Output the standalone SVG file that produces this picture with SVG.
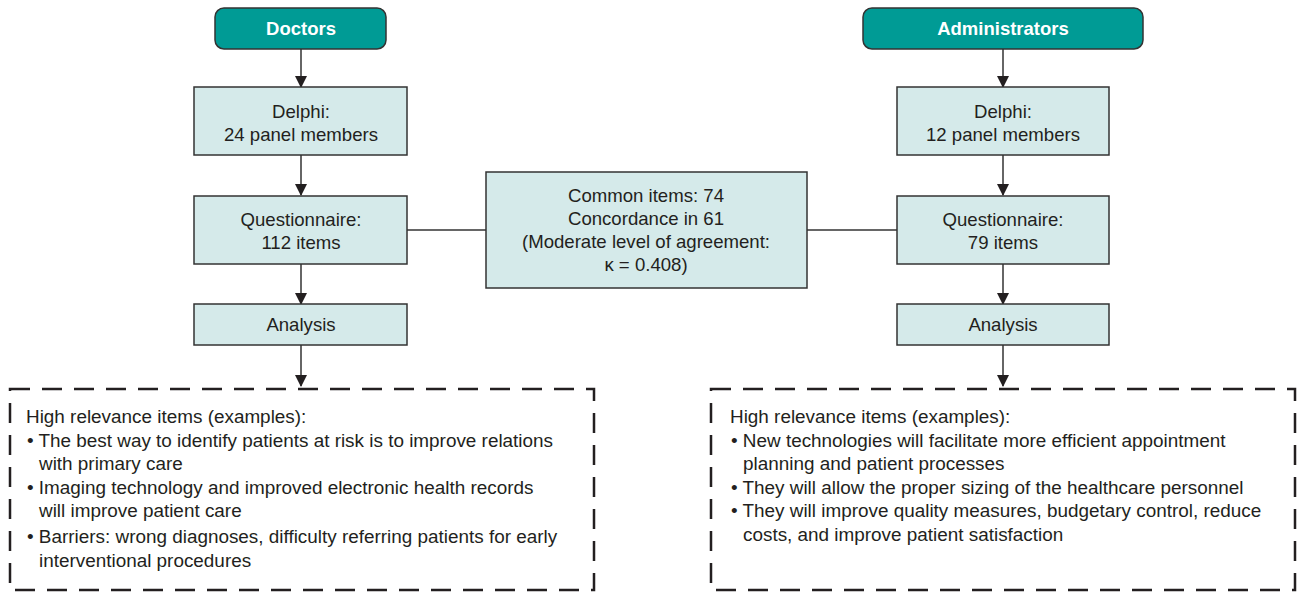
<svg xmlns="http://www.w3.org/2000/svg" width="1300" height="594" viewBox="0 0 1300 594">
<defs>
<marker id="ah" markerWidth="12" markerHeight="12" refX="11" refY="6" orient="auto" markerUnits="userSpaceOnUse">
<path d="M0,0 L12,6 L0,12 Z" fill="#231f20"/>
</marker>
<style>
.head{fill:#009b95;stroke:#333;stroke-width:1.5}
.box{fill:#d5eaea;stroke:#333;stroke-width:1.5}
.ht{font-family:"Liberation Sans",Arial,sans-serif;font-size:18.5px;font-weight:bold;fill:#fff;text-anchor:middle}
.bt{font-family:"Liberation Sans",Arial,sans-serif;font-size:18.6px;fill:#231f20;text-anchor:middle}
.lt{font-family:"Liberation Sans",Arial,sans-serif;font-size:18.9px;fill:#231f20}
.dash{fill:none;stroke:#231f20;stroke-width:2.5;stroke-dasharray:20 12}
.c{fill:none;stroke:#333;stroke-width:1.5}
</style>
</defs>
<rect width="1300" height="594" fill="#fff"/>
<g id="connectors">
<line class="c" x1="301" y1="49" x2="301" y2="87" marker-end="url(#ah)"/>
<line class="c" x1="301" y1="155" x2="301" y2="195" marker-end="url(#ah)"/>
<line class="c" x1="301" y1="264" x2="301" y2="304" marker-end="url(#ah)"/>
<line class="c" x1="301" y1="345" x2="301" y2="386" marker-end="url(#ah)"/>
<line class="c" x1="1003" y1="49" x2="1003" y2="87" marker-end="url(#ah)"/>
<line class="c" x1="1003" y1="155" x2="1003" y2="195" marker-end="url(#ah)"/>
<line class="c" x1="1003" y1="264" x2="1003" y2="304" marker-end="url(#ah)"/>
<line class="c" x1="1003" y1="345" x2="1003" y2="386" marker-end="url(#ah)"/>
<line class="c" x1="407" y1="230" x2="486" y2="230"/>
<line class="c" x1="807" y1="230" x2="897" y2="230"/>
</g>
<g id="doctors">
<rect class="head" x="215" y="8" width="171" height="41" rx="9"/>
<text class="ht" x="301" y="35">Doctors</text>
</g>
<g id="admins">
<rect class="head" x="863" y="8" width="280" height="41" rx="9"/>
<text class="ht" x="1003" y="35">Administrators</text>
</g>
<g id="delphi-doc">
<rect class="box" x="194" y="87" width="213" height="68"/>
<text class="bt" x="301" y="118">Delphi:</text>
<text class="bt" x="301" y="141">24 panel members</text>
</g>
<g id="delphi-adm">
<rect class="box" x="897" y="87" width="212" height="68"/>
<text class="bt" x="1003" y="118">Delphi:</text>
<text class="bt" x="1003" y="141">12 panel members</text>
</g>
<g id="quest-doc">
<rect class="box" x="194" y="196" width="213" height="68"/>
<text class="bt" x="301" y="226">Questionnaire:</text>
<text class="bt" x="301" y="249">112 items</text>
</g>
<g id="quest-adm">
<rect class="box" x="897" y="196" width="212" height="68"/>
<text class="bt" x="1003" y="226">Questionnaire:</text>
<text class="bt" x="1003" y="249">79 items</text>
</g>
<g id="analysis-doc">
<rect class="box" x="194" y="304" width="213" height="41"/>
<text class="bt" x="301" y="331">Analysis</text>
</g>
<g id="analysis-adm">
<rect class="box" x="897" y="304" width="212" height="41"/>
<text class="bt" x="1003" y="331">Analysis</text>
</g>
<g id="common">
<rect class="box" x="486" y="172" width="321" height="116"/>
<text class="bt" x="646" y="202">Common items: 74</text>
<text class="bt" x="646" y="225">Concordance in 61</text>
<text class="bt" x="646" y="248">(Moderate level of agreement:</text>
<text class="bt" x="646" y="271">κ = 0.408)</text>
</g>
<g id="results-doc">
<rect class="dash" x="10" y="389" width="584" height="201"/>
<text class="lt" x="26" y="423">High relevance items (examples):</text>
<text class="lt" x="27" y="447">• The best way to identify patients at risk is to improve relations</text>
<text class="lt" x="39" y="470">with primary care</text>
<text class="lt" x="27" y="494">• Imaging technology and improved electronic health records</text>
<text class="lt" x="39" y="517">will improve patient care</text>
<text class="lt" x="27" y="543">• Barriers: wrong diagnoses, difficulty referring patients for early</text>
<text class="lt" x="39" y="567">interventional procedures</text>
</g>
<g id="results-adm">
<rect class="dash" x="711" y="389" width="584" height="201"/>
<text class="lt" x="730" y="423">High relevance items (examples):</text>
<text class="lt" x="731" y="447">• New technologies will facilitate more efficient appointment</text>
<text class="lt" x="743" y="470">planning and patient processes</text>
<text class="lt" x="731" y="494">• They will allow the proper sizing of the healthcare personnel</text>
<text class="lt" x="731" y="517">• They will improve quality measures, budgetary control, reduce</text>
<text class="lt" x="743" y="541">costs, and improve patient satisfaction</text>
</g>
</svg>
